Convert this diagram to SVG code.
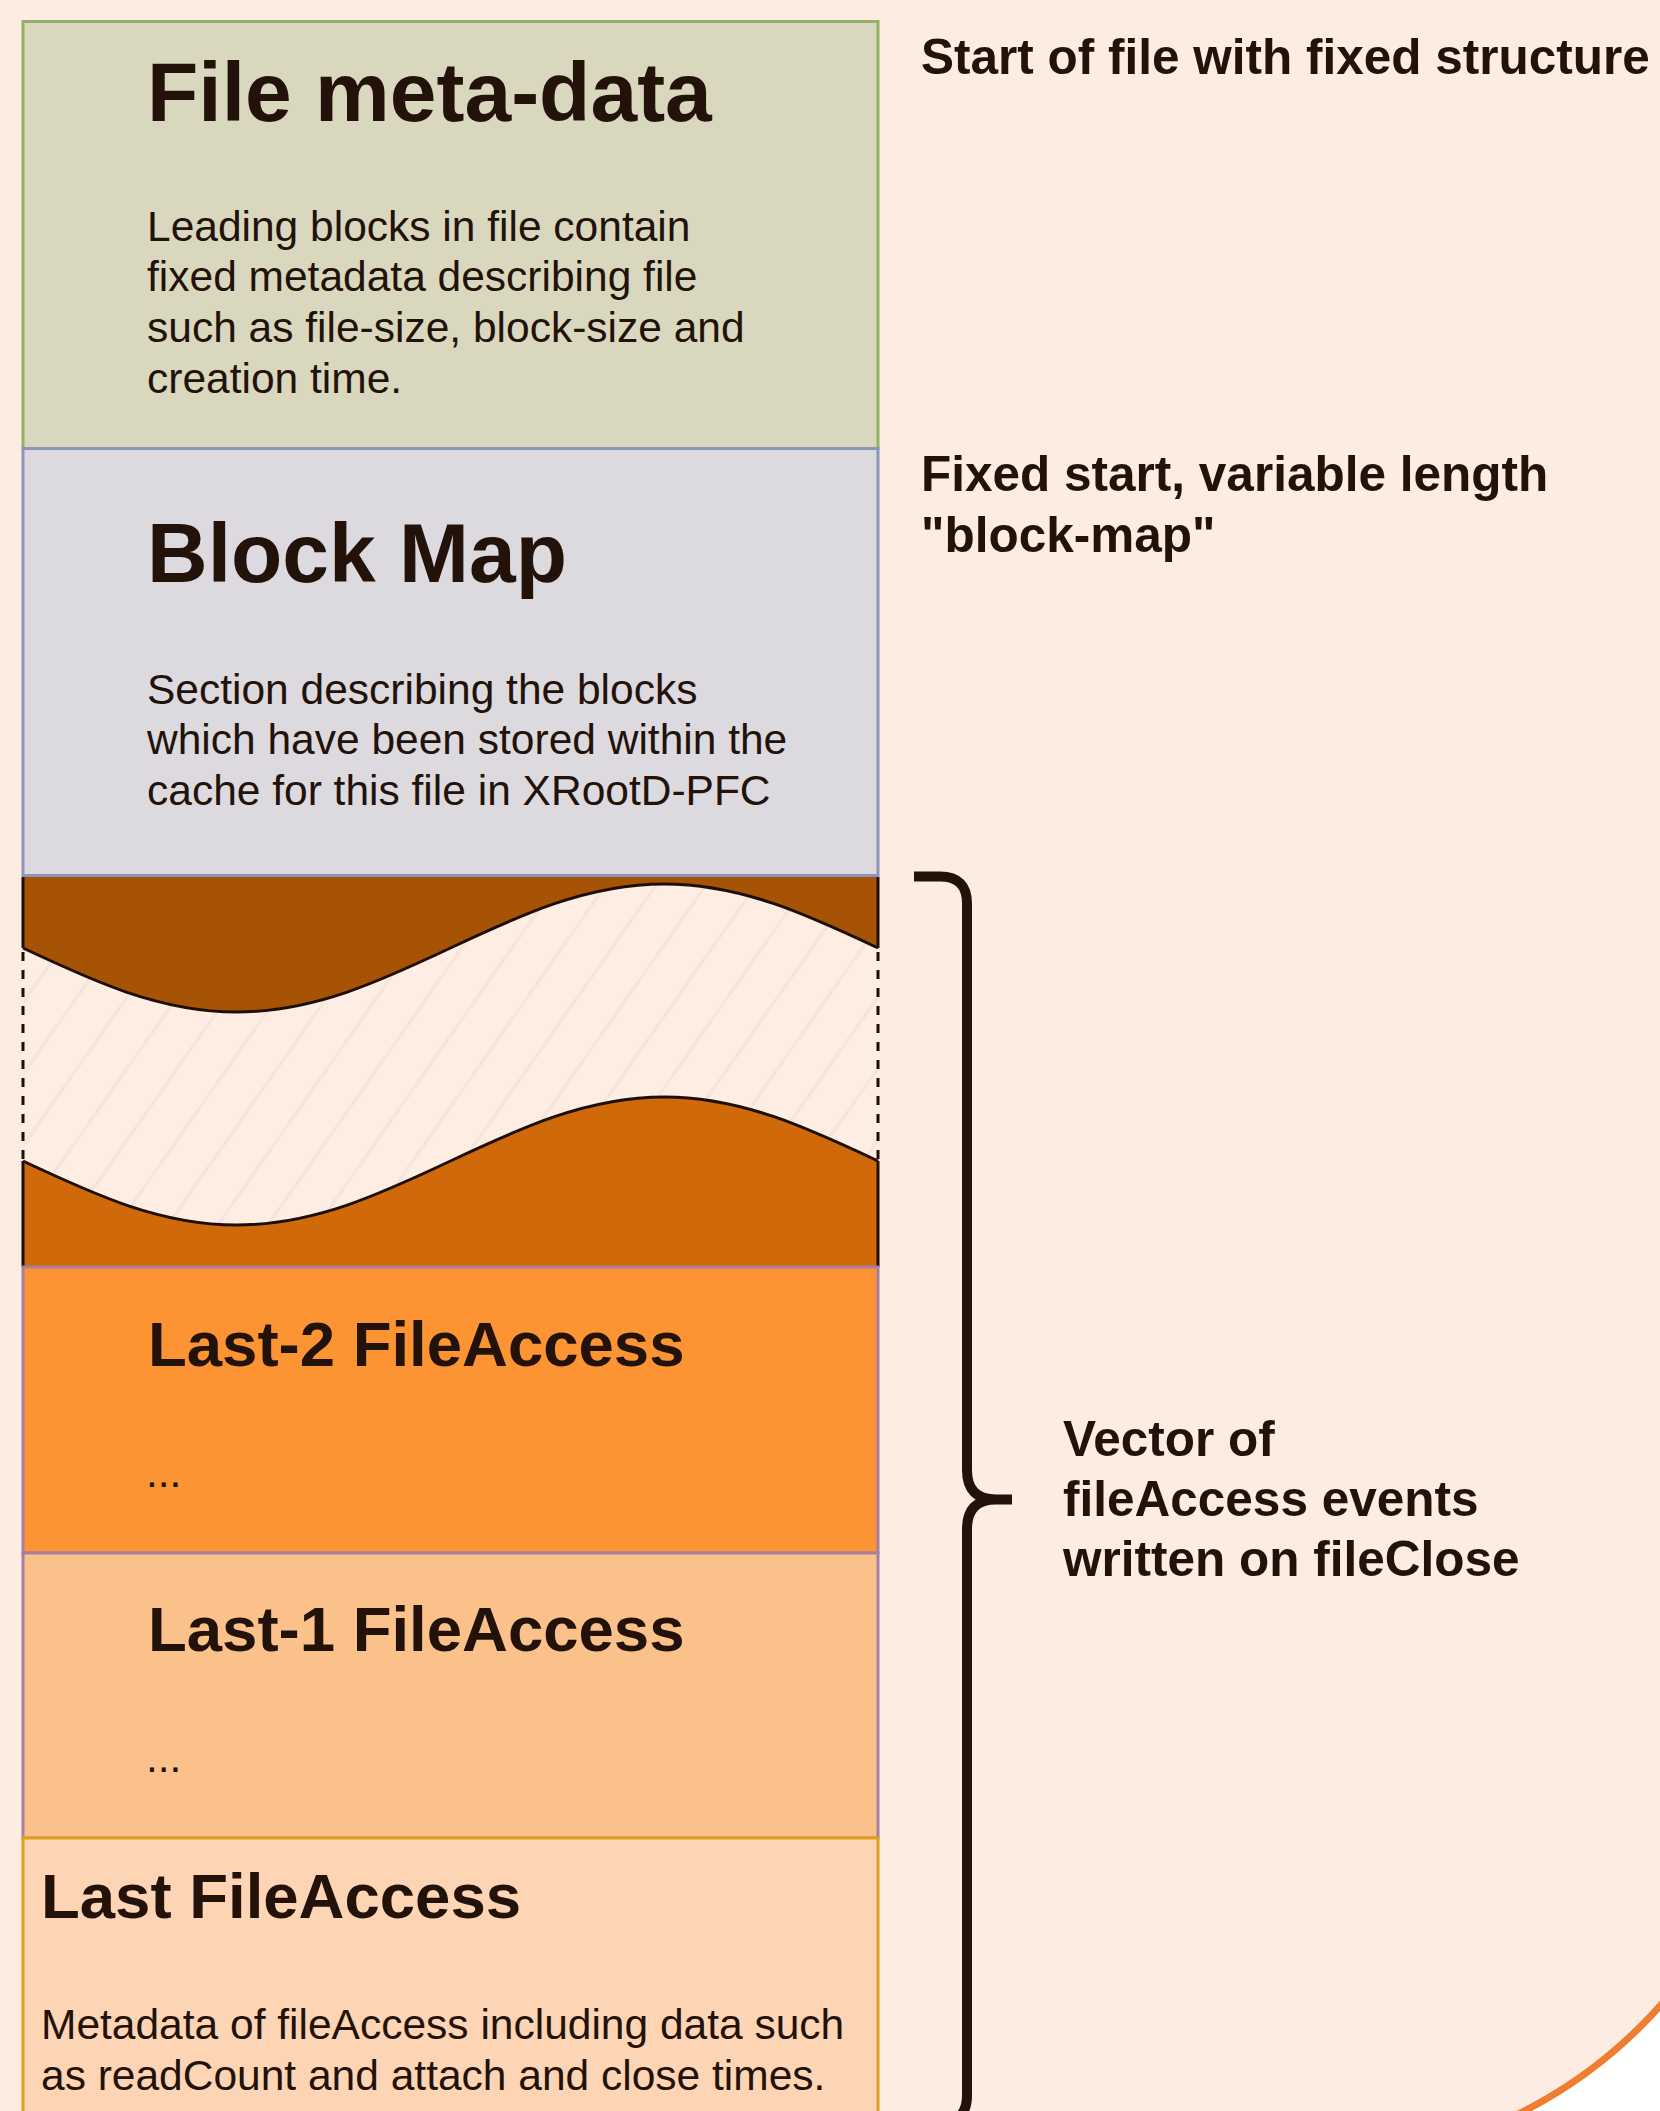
<svg xmlns="http://www.w3.org/2000/svg" width="1660" height="2111" viewBox="0 0 1660 2111">
  <style>
    .title { font-family: "Liberation Sans", Arial, sans-serif; font-weight: bold; font-size: 84px; fill: #22120a; }
    .title2 { font-family: "Liberation Sans", Arial, sans-serif; font-weight: bold; font-size: 63.5px; fill: #22120a; }
    .body { font-family: "Liberation Sans", Arial, sans-serif; font-size: 42.5px; fill: #22120a; }
    .side { font-family: "Liberation Sans", Arial, sans-serif; font-weight: bold; font-size: 49.5px; fill: #22120a; }
    .edge { stroke: #1e0f06; stroke-width: 3; fill: none; }
    .dash { stroke: #1e0f06; stroke-width: 3; fill: none; stroke-dasharray: 9 9; }
  </style>
  <defs>
    <pattern id="hatch" width="41" height="41" patternUnits="userSpaceOnUse" patternTransform="rotate(35)">
      <rect width="41" height="41" fill="#fdede3"/>
      <line x1="20" y1="0" x2="20" y2="41" stroke="#f6e4da" stroke-width="3"/>
    </pattern>
  </defs>

  <rect x="0" y="0" width="1660" height="2111" fill="#ffffff"/>
  <rect id="background" x="-700" y="-700" width="2480" height="2863" rx="471" ry="471" fill="#fdece2" stroke="#ef7e30" stroke-width="7"/>

  <g id="node-file-meta">
    <rect x="23" y="21.5" width="855" height="427" fill="#d9d8be" stroke="#93b066" stroke-width="3"/>
    <text class="title" x="147" y="121">File meta-data</text>
    <text class="body" x="147" y="240.5">Leading blocks in file contain</text>
    <text class="body" x="147" y="291.3">fixed metadata describing file</text>
    <text class="body" x="147" y="342.1">such as file-size, block-size and</text>
    <text class="body" x="147" y="392.9">creation time.</text>
  </g>

  <g id="node-block-map">
    <rect x="23" y="448.5" width="855" height="427" fill="#dddadf" stroke="#8a96bc" stroke-width="3"/>
    <text class="title" x="147" y="582">Block Map</text>
    <text class="body" x="147" y="703.5">Section describing the blocks</text>
    <text class="body" x="147" y="754.3">which have been stored within the</text>
    <text class="body" x="147" y="805.1">cache for this file in XRootD-PFC</text>
  </g>

  <g id="node-gap">
    <path d="M23 948 C92.71 980.79 159.39 1012 236.75 1012 S380.79 980.79 450.5 948 S586.89 884 664.25 884 S808.29 915.21 878 948 L878 1161 C808.29 1128.21 741.61 1097 664.25 1097 C586.89 1097 520.21 1128.21 450.5 1161 C380.79 1193.79 314.11 1225 236.75 1225 C159.39 1225 92.71 1193.79 23 1161 Z" fill="url(#hatch)"/>
    <path d="M23 877 H878 V948 C808.29 915.21 741.61 884 664.25 884 C586.89 884 520.21 915.21 450.5 948 C380.79 980.79 314.11 1012 236.75 1012 C159.39 1012 92.71 980.79 23 948 Z" fill="#a65306"/>
    <path d="M23 1161 C92.71 1193.79 159.39 1225 236.75 1225 S380.79 1193.79 450.5 1161 S586.89 1097 664.25 1097 S808.29 1128.21 878 1161 V1267 H23 Z" fill="#d0690a"/>
    <path class="edge" d="M23 948 C92.71 980.79 159.39 1012 236.75 1012 S380.79 980.79 450.5 948 S586.89 884 664.25 884 S808.29 915.21 878 948"/>
    <path class="edge" d="M23 1161 C92.71 1193.79 159.39 1225 236.75 1225 S380.79 1193.79 450.5 1161 S586.89 1097 664.25 1097 S808.29 1128.21 878 1161"/>
    <path class="edge" d="M23 877 V948 M878 877 V948 M23 1161 V1267 M878 1161 V1267"/>
    <path class="dash" d="M23 952 V1161 M878 952 V1161"/>
  </g>

  <g id="node-last-2">
    <rect x="23" y="1267" width="855" height="286" fill="#fc9434" stroke="#a87ea0" stroke-width="3"/>
    <text class="title2" x="148" y="1366">Last-2 FileAccess</text>
    <text class="body" x="146" y="1487">...</text>
  </g>

  <g id="node-last-1">
    <rect x="23" y="1553" width="855" height="285" fill="#fbc18a" stroke="#a87ea0" stroke-width="3"/>
    <text class="title2" x="148" y="1651">Last-1 FileAccess</text>
    <text class="body" x="146" y="1772">...</text>
  </g>

  <g id="node-last">
    <rect x="23" y="1838" width="855" height="320" fill="#fdd5b4" stroke="#e0a01e" stroke-width="3"/>
    <text class="title2" x="41" y="1918">Last FileAccess</text>
    <text class="body" x="41" y="2039">Metadata of fileAccess including data such</text>
    <text class="body" x="41" y="2090">as readCount and attach and close times.</text>
  </g>

  <g id="label-start">
    <text class="side" x="921" y="74">Start of file with fixed structure</text>
  </g>
  <g id="label-fixed">
    <text class="side" x="921" y="491">Fixed start, variable length</text>
    <text class="side" x="921" y="552">"block-map"</text>
  </g>
  <g id="label-vector">
    <text class="side" x="1063" y="1455.5">Vector of</text>
    <text class="side" x="1063" y="1515.5">fileAccess events</text>
    <text class="side" x="1063" y="1575.5">written on fileClose</text>
  </g>

  <g id="connectors">
    <path d="M914 876.5 H940 Q967 876.5 967 903.5 V1470 Q967 1499.5 996 1499.5 H1012 M996 1499.5 Q967 1499.5 967 1529 V2095.5 Q967 2122.5 940 2122.5 H914" fill="none" stroke="#22120a" stroke-width="10"/>
  </g>
</svg>
